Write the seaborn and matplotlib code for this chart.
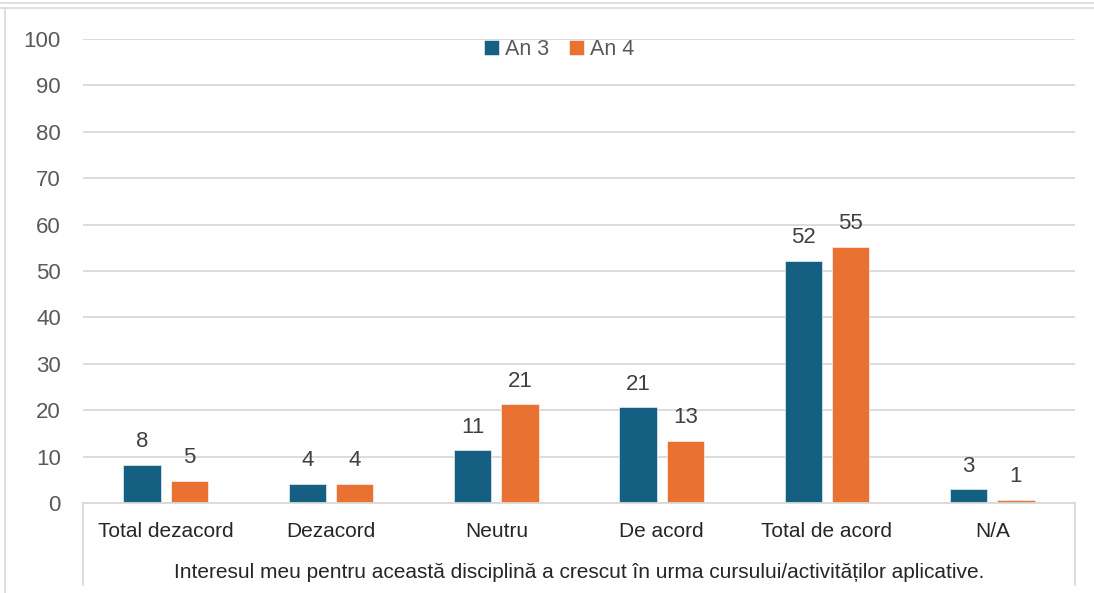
import pandas as pd
import numpy as np
import matplotlib.pyplot as plt
import seaborn as sns
from matplotlib.lines import Line2D

# valori (procente)
categorii = ['Total dezacord', 'Dezacord', 'Neutru', 'De acord', 'Total de acord', 'N/A']
an3 = [8.2, 4.1, 11.4, 20.6, 52.2, 3.0]
an4 = [4.8, 4.1, 21.3, 13.4, 55.2, 0.7]
serii = ['An 3', 'An 4']
culori = ['#156082', '#E97132']
titlu_jos = 'Interesul meu pentru această disciplină a crescut în urma cursului/activităților aplicative.'

df = pd.DataFrame({
    'Categorie': categorii * 2,
    'Valoare': an3 + an4,
    'Serie': [serii[0]] * len(categorii) + [serii[1]] * len(categorii),
})

sns.set_theme(style='white')
plt.rcParams['font.family'] = ['Liberation Sans', 'DejaVu Sans']

fig = plt.figure(figsize=(10.94, 5.93), dpi=100)
ax = fig.add_axes([83 / 1094, 1 - 503 / 593, (1075 - 83) / 1094, (503 - 39) / 593])

sns.barplot(data=df, x='Categorie', y='Valoare', hue='Serie', order=categorii,
            hue_order=serii, palette=culori, saturation=1, width=0.57, gap=0.21,
            edgecolor='white', linewidth=0.4, ax=ax)

for cont in ax.containers:
    ax.bar_label(cont, fmt='%.0f', padding=9, fontsize=16, color='#404040')

ax.set_ylim(0, 100)
ax.set_yticks(range(0, 101, 10))
ax.yaxis.grid(True, color='#d9d9d9', linewidth=1.3)
ax.set_axisbelow(True)
for s in ['top', 'right', 'left']:
    ax.spines[s].set_visible(False)
ax.spines['bottom'].set_color('#d9d9d9')
ax.spines['bottom'].set_linewidth(1.3)
ax.tick_params(axis='y', length=0, pad=16, labelsize=16, labelcolor='#595959')
ax.tick_params(axis='x', length=0, pad=14, labelsize=15, labelcolor='#262626')
ax.set_xlabel('')
ax.set_ylabel('')

leg = ax.legend(loc='upper center', bbox_to_anchor=(0.48, 1.042), ncol=2, frameon=False,
                fontsize=15.5, handlelength=0.7, handleheight=0.7, columnspacing=0.9,
                handletextpad=0.3)
for t in leg.get_texts():
    t.set_color('#595959')

# caseta de dedesubt cu textul intrebarii
for xp in [83, 1075]:
    fig.add_artist(Line2D([xp / 1094, xp / 1094], [1 - 503 / 593, 1 - 585 / 593],
                          transform=fig.transFigure, color='#d9d9d9', linewidth=1.3))
fig.text((83 + 1075) / 2 / 1094, 1 - 573 / 593, titlu_jos, ha='center', va='center',
         fontsize=15, color='#262626')

# chenarul exterior
for yp in [3, 8]:
    fig.add_artist(Line2D([0, 1], [1 - yp / 593, 1 - yp / 593], transform=fig.transFigure,
                          color='#d9d9d9', linewidth=1.2))
fig.add_artist(Line2D([5 / 1094, 5 / 1094], [1 - 8 / 593, 0], transform=fig.transFigure,
                      color='#d9d9d9', linewidth=1.2))

fig.savefig('out.png', dpi=100)
